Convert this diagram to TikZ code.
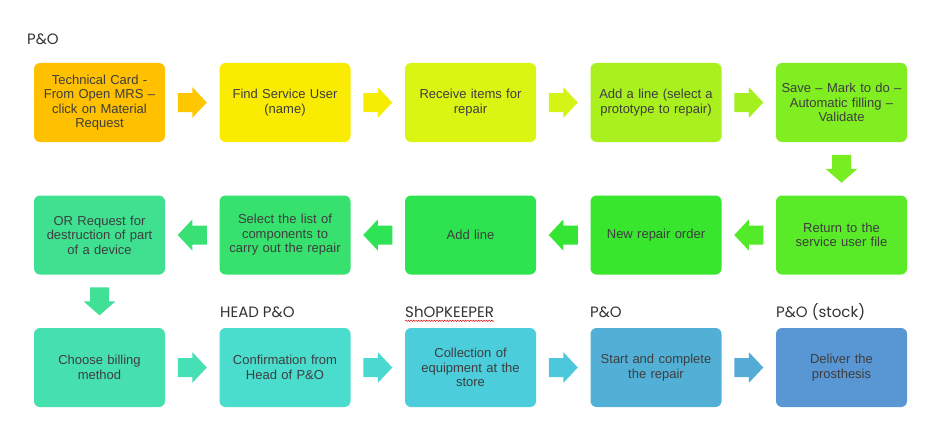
\documentclass[tikz,border=0pt]{standalone}
\usepackage{fontspec}
\setmainfont{Liberation Sans}
\newfontfamily\labfont{Poppins}
\usetikzlibrary{calc,decorations.pathmorphing}
\definecolor{txt}{HTML}{3E3E3E}
\definecolor{labc}{HTML}{333333}
\definecolor{c1}{HTML}{FFC000}
\definecolor{c2}{HTML}{FAEC00}
\definecolor{c3}{HTML}{DAF512}
\definecolor{c4}{HTML}{AAF01E}
\definecolor{c5}{HTML}{80EE20}
\definecolor{c6}{HTML}{5AEB28}
\definecolor{c7}{HTML}{37E62D}
\definecolor{c8}{HTML}{2DE450}
\definecolor{c9}{HTML}{37E16E}
\definecolor{c10}{HTML}{40E091}
\definecolor{c11}{HTML}{46E0AF}
\definecolor{c12}{HTML}{4ADCCD}
\definecolor{c13}{HTML}{4BCDDC}
\definecolor{c14}{HTML}{52B0D7}
\definecolor{c15}{HTML}{5896D4}
\colorlet{a1}{c1!85!c2}
\colorlet{a2}{c2!85!c3}
\colorlet{a3}{c3!85!c4}
\colorlet{a4}{c4!85!c5}
\colorlet{a5}{c5!80!c6}
\colorlet{a6}{c6!80!c7}
\colorlet{a7}{c7!80!c8}
\colorlet{a8}{c8!80!c9}
\colorlet{a9}{c9!80!c10}
\colorlet{a10}{c10!80!c11}
\colorlet{a11}{c11!80!c12}
\colorlet{a12}{c12!80!c13}
\colorlet{a13}{c13!80!c14}
\colorlet{a14}{c14!80!c15}
\tikzset{
 box/.style={rounded corners=6pt, minimum width=131pt, minimum height=79pt,
   inner sep=2pt, align=center, text width=126pt,
   font=\fontsize{13}{14.5}\selectfont, text=txt},
 lab/.style={anchor=west, font=\labfont\fontsize{15}{18}\selectfont, text=labc, inner sep=0pt},
 blockR/.style={to path={($(\tikztostart)!0.5!(\tikztotarget)$) coordinate (m)
   ($(m)+(-14.5,-9.5)$) -- ($(m)+(0,-9.5)$) -- ($(m)+(0,-15.5)$) -- ($(m)+(14.5,0)$)
   -- ($(m)+(0,15.5)$) -- ($(m)+(0,9.5)$) -- ($(m)+(-14.5,9.5)$) -- cycle}},
 blockL/.style={to path={($(\tikztostart)!0.5!(\tikztotarget)$) coordinate (m)
   ($(m)+(14.5,-9.5)$) -- ($(m)+(0,-9.5)$) -- ($(m)+(0,-15.5)$) -- ($(m)+(-14.5,0)$)
   -- ($(m)+(0,15.5)$) -- ($(m)+(0,9.5)$) -- ($(m)+(14.5,9.5)$) -- cycle}},
 blockD/.style={to path={($(\tikztostart)!0.5!(\tikztotarget)$) coordinate (m)
   ($(m)+(-9.5,-14)$) -- ($(m)+(9.5,-14)$) -- ($(m)+(9.5,0)$) -- ($(m)+(16,0)$)
   -- ($(m)+(0,14)$) -- ($(m)+(-16,0)$) -- ($(m)+(-9.5,0)$) -- cycle}},
}
\begin{document}
\begin{tikzpicture}[x=1pt,y=-1pt]
\useasboundingbox[fill=white] (0,0) rectangle (945,444);
% row 1
\node[box, fill=c1] (n1) at (99.5,102.5) {Technical Card -\\From Open MRS --\\click on Material\\Request};
\node[box, fill=c2] (n2) at (285,102.5) {Find Service User\\(name)};
\node[box, fill=c3] (n3) at (470.5,102.5) {Receive items for\\repair};
\node[box, fill=c4] (n4) at (656,102.5) {Add a line (select a\\prototype to repair)};
\node[box, fill=c5] (n5) at (841.5,102.5) {Save -- Mark to do --\\Automatic filling --\\Validate};
% row 2
\node[box, fill=c6] (n6) at (841.5,235) {Return to the\\service user file};
\node[box, fill=c7] (n7) at (656,235) {New repair order};
\node[box, fill=c8] (n8) at (470.5,235) {Add line};
\node[box, fill=c9] (n9) at (285,235) {Select the list of\\components to\\carry out the repair};
\node[box, fill=c10] (n10) at (99.5,235) {OR Request for\\destruction of part\\of a device};
% row 3
\node[box, fill=c11] (n11) at (99.5,367.5) {Choose billing\\method};
\node[box, fill=c12] (n12) at (285,367.5) {Confirmation from\\Head of P\&O};
\node[box, fill=c13] (n13) at (470.5,367.5) {Collection of\\equipment at the\\store};
\node[box, fill=c14] (n14) at (656,367.5) {Start and complete\\the repair};
\node[box, fill=c15] (n15) at (841.5,367.5) {Deliver the\\prosthesis};
% labels
\node[lab] (l0) at (27,39) {P\&O};
\node[lab] (l1) at (220,312) {HEAD P\&O};
\node[lab] (l2) at (405,312) {ShOPKEEPER};
\node[lab] (l3) at (590,312) {P\&O};
\node[lab] (l4) at (776,312) {P\&O (stock)};
\draw[red!85!black, line width=0.45pt, decorate, decoration={snake, amplitude=0.7pt, segment length=2.6pt}]
  ($(l2.south west)+(0,3)$) -- ($(l2.south east)+(0,3)$);
% arrows
\fill[a1] (n1.east) to[blockR] (n2.west);
\fill[a2] (n2.east) to[blockR] (n3.west);
\fill[a3] (n3.east) to[blockR] (n4.west);
\fill[a4] (n4.east) to[blockR] (n5.west);
\fill[a5] (n5.south) to[blockD] (n6.north);
\fill[a6] (n6.west) to[blockL] (n7.east);
\fill[a7] (n7.west) to[blockL] (n8.east);
\fill[a8] (n8.west) to[blockL] (n9.east);
\fill[a9] (n9.west) to[blockL] (n10.east);
\fill[a10] (n10.south) to[blockD] (n11.north);
\fill[a11] (n11.east) to[blockR] (n12.west);
\fill[a12] (n12.east) to[blockR] (n13.west);
\fill[a13] (n13.east) to[blockR] (n14.west);
\fill[a14] (n14.east) to[blockR] (n15.west);
\end{tikzpicture}
\end{document}
